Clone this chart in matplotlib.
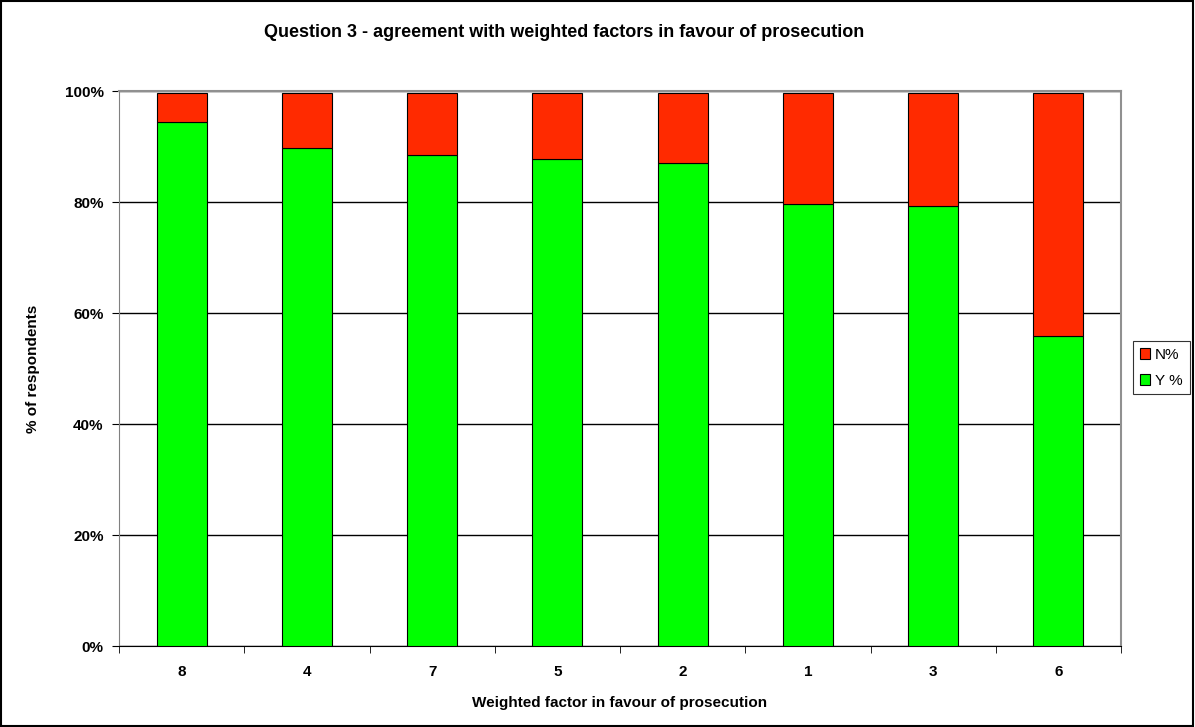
import matplotlib.pyplot as plt
from matplotlib.ticker import PercentFormatter
from matplotlib.patches import Rectangle

factors = ["8", "4", "7", "5", "2", "1", "3", "6"]
yes_pct = [94.5, 89.8, 88.5, 87.8, 87.1, 79.7, 79.3, 55.9]
no_pct = [5.2, 9.9, 11.2, 11.9, 12.6, 20.0, 20.4, 43.8]

green = "#00ff00"
red = "#ff2a00"

fig = plt.figure(figsize=(11.95, 7.27), dpi=100)
ax = fig.add_axes([0.0996, 0.1114, 0.8385, 0.7634])

x = range(len(factors))
ax.bar(x, yes_pct, width=0.4, color=green, edgecolor="black", linewidth=0.8,
       label="Y %", zorder=3)
ax.bar(x, no_pct, width=0.4, bottom=yes_pct, color=red, edgecolor="black",
       linewidth=0.8, label="N%", zorder=3)

ax.set_xlim(-0.5, len(factors) - 0.5)
ax.set_ylim(0, 100)
ax.set_yticks(range(0, 101, 20))
ax.yaxis.set_major_formatter(PercentFormatter(decimals=0))
ax.set_xticks(list(x))
ax.set_xticklabels(factors)
# small ticks between the categories
ax.set_xticks([i + 0.5 for i in range(-1, len(factors))], minor=True)
ax.tick_params(axis="x", which="major", length=0, pad=14)
ax.tick_params(axis="x", which="minor", length=5, color="black", direction="out")
ax.tick_params(axis="y", length=5, direction="out", pad=6)
for lbl in ax.get_xticklabels() + ax.get_yticklabels():
    lbl.set_fontweight("bold")
    lbl.set_fontsize(11)
    lbl.set_family("Liberation Sans")

ax.grid(axis="y", color="black", linewidth=1, zorder=0)
for side in ["top", "right"]:
    ax.spines[side].set_color("#909090")
    ax.spines[side].set_linewidth(1.5)
ax.spines["left"].set_color("#808080")
ax.spines["bottom"].set_color("black")

ax.set_xlabel("Weighted factor in favour of prosecution", fontsize=11,
              fontweight="bold", family="Liberation Sans", labelpad=12)
ax.set_ylabel("% of respondents", fontsize=11, fontweight="bold",
              family="Liberation Sans", labelpad=18)
fig.text(0.472, 0.955, "Question 3 - agreement with weighted factors in favour of prosecution",
         ha="center", va="center", fontsize=13, fontweight="bold",
         family="Liberation Sans")

handles, labels = ax.get_legend_handles_labels()
leg = fig.legend(handles[::-1], labels[::-1], loc="center left",
                 bbox_to_anchor=(0.948, 0.494), frameon=True, fancybox=False,
                 prop={"family": "Liberation Sans", "size": 11},
                 handlelength=0.7, handleheight=0.7, handletextpad=0.3,
                 borderpad=0.45, labelspacing=0.75, borderaxespad=0)
leg.get_frame().set_edgecolor("black")
leg.get_frame().set_linewidth(0.8)

# outer border round the whole chart
fig.patches.append(Rectangle((0.001, 0.002), 0.997, 0.996, transform=fig.transFigure,
                             fill=False, edgecolor="black", linewidth=1.5))

fig.savefig("out.png", dpi=100)
